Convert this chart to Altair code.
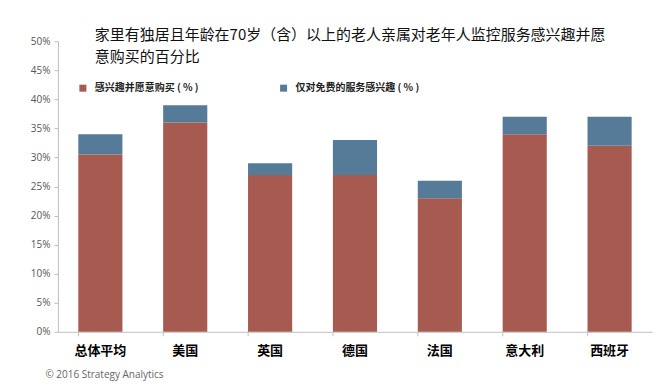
import altair as alt
import pandas as pd

categories = ["总体平均", "美国", "英国", "德国", "法国", "意大利", "西班牙"]
buy_pct = [30.5, 36, 27, 27, 23, 34, 32]
free_only_pct = [3.5, 3, 2, 6, 3, 3, 5]
series_names = ["感兴趣并愿意购买 ( % )", "仅对免费的服务感兴趣 ( % )"]
series_colors = ["#A65A50", "#567B98"]
title_lines = ["家里有独居且年龄在70岁（含）以上的老人亲属对老年人监控服务感兴趣并愿",
               "意购买的百分比"]
footer = "© 2016 Strategy Analytics"

rows = []
for c, a, b in zip(categories, buy_pct, free_only_pct):
    rows.append({"cat": c, "series": series_names[0], "val": a / 100, "ord": 0})
    rows.append({"cat": c, "series": series_names[1], "val": b / 100, "ord": 1})
df = pd.DataFrame(rows)

FONT = "Noto Sans CJK SC"

chart = alt.Chart(df).mark_bar().encode(
    x=alt.X("cat:N", sort=categories,
            scale=alt.Scale(paddingInner=0.48, paddingOuter=0.24),
            axis=alt.Axis(title=footer, labelAngle=0, labelFont=FONT, labelFontSize=13,
                          labelFontWeight="bold", labelColor="#000000", labelPadding=9,
                          bandPosition=0, tickSize=4, tickColor="#BFBFBF",
                          domainColor="#BFBFBF", titleFont="Open Sans", titleFontSize=10,
                          titleFontWeight="normal", titleColor="#666666",
                          titleAnchor="start", titleAlign="left", titleX=-13, titleY=43,
                          titleBaseline="middle")),
    y=alt.Y("val:Q", stack="zero",
            scale=alt.Scale(domain=[0, 0.5]),
            axis=alt.Axis(title=None, format=".0%", values=[i * 0.05 for i in range(11)],
                          grid=False, tickSize=4, tickColor="#BFBFBF", domainColor="#BFBFBF",
                          labelFont="Open Sans", labelFontSize=10, labelColor="#555555",
                          labelPadding=4)),
    color=alt.Color("series:N", sort=series_names,
                    scale=alt.Scale(domain=series_names, range=series_colors),
                    legend=alt.Legend(title=None, orient="none", legendX=20, legendY=42,
                                      direction="horizontal", symbolType="square",
                                      symbolSize=49, symbolStrokeWidth=0,
                                      labelFont=FONT, labelFontSize=10,
                                      labelFontWeight="bold", labelColor="#222222",
                                      labelOffset=7, columnPadding=80)),
    order=alt.Order("ord:Q", sort="ascending"),
).properties(
    width=595,
    height=291,
    title=alt.Title(text=title_lines, anchor="start", frame="group", dx=37, dy=29,
                    offset=0, font=FONT, fontSize=15, fontWeight="normal",
                    color="#111111", lineHeight=22),
    autosize=alt.AutoSizeParams(type="none"),
    padding={"left": 50, "top": 33, "right": 12, "bottom": 55},
).configure_view(stroke=None)

chart.save("out.html", embed_options={"renderer": "svg", "actions": False})
